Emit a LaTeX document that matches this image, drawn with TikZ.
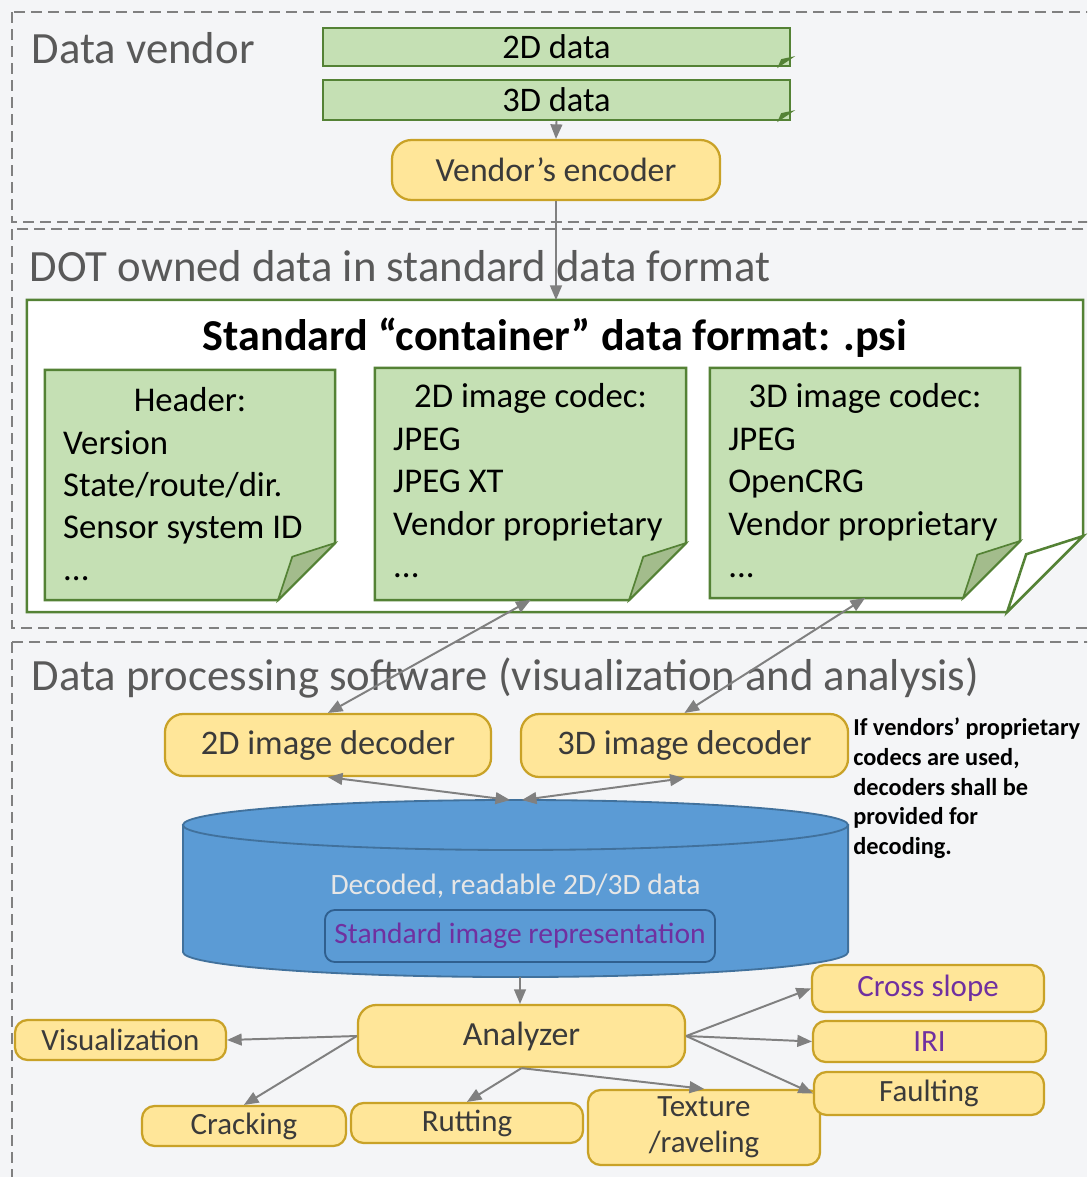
\documentclass[tikz,border=0pt]{standalone}
\usepackage{fontspec}
\setmainfont{Carlito}
\usepackage{tikz}
\usetikzlibrary{arrows,calc}
\definecolor{page}{HTML}{F4F5F7}
\definecolor{zgray}{HTML}{808080}
\definecolor{lbl}{HTML}{595959}
\definecolor{agray}{HTML}{808080}
\definecolor{gfill}{HTML}{C5E0B4}
\definecolor{gline}{HTML}{548235}
\definecolor{gflap}{HTML}{A3BC8C}
\definecolor{yfill}{HTML}{FFE699}
\definecolor{yline}{HTML}{C9A227}
\definecolor{ytext}{HTML}{3A3A3A}
\definecolor{bfill}{HTML}{5B9BD5}
\definecolor{bline}{HTML}{41719C}
\definecolor{repline}{HTML}{2F5F8F}
\definecolor{dbtext}{HTML}{E6E6E6}
\definecolor{purp}{HTML}{7030A0}
\newcommand{\fsz}[2]{\fontsize{#1}{#2}\selectfont}
% card outline with folded corner: node, fold (px), card style, flap style
\newcommand{\foldcard}[4]{%
  \draw[#3] (#1.north west) -- (#1.north east) -- ($(#1.south east)+(0,-#2)$)
    -- ($(#1.south east)+(-#2,0)$) -- (#1.south west) -- cycle;
  \draw[#4] ($(#1.south east)+(-#2,0)$) -- ($(#1.south east)+(-0.75*#2,-0.76*#2)$)
    -- ($(#1.south east)+(0,-#2)$) -- cycle;}

\begin{document}
\begin{tikzpicture}[x=0.025cm,y=-0.025cm,>=triangle 45,
  zone/.style={draw=zgray,line width=2pt,dash pattern=on 7.8pt off 4.3pt},
  zlbl/.style={anchor=west,text=lbl,font=\fsz{31.8}{36}},
  blank/.style={inner sep=0pt,outer sep=0pt},
  ybox/.style={draw=yline,fill=yfill,line width=1.6pt,rounded corners=13pt,inner sep=0pt,text=ytext},
  gbox/.style={draw=gline,fill=gfill,line width=1.6pt,inner sep=0pt,font=\fsz{24.5}{26}},
  card/.style={draw=gline,fill=gfill,line width=1.8pt},
  flap/.style={draw=gline,fill=gflap,line width=1.2pt},
  ctitle/.style={font=\fsz{24.7}{30}},
  clist/.style={anchor=north west,align=left,inner sep=0pt,font=\fsz{24.7}{30}},
  cyl/.style={draw=bline,fill=bfill,line width=1.3pt},
  leaf/.style={ybox,rounded corners=9pt,font=\fsz{22}{25.6}},
  arr/.style={color=agray,line width=1.4pt}
]
\useasboundingbox (0,0) rectangle (1087,1177);
\clip (0,0) rectangle (1087,1177);
\fill[page] (0,0) rectangle (1087,1177);

% data vendor
\draw[zone] (12,12) rectangle (1110,222);
\node[zlbl] (zv) at (27,48) {Data vendor};
\node[gbox,minimum width=11.675cm,minimum height=0.95cm] (d2) at (556.5,47) {2D data};
\node[gbox,minimum width=11.675cm,minimum height=1cm] (d3) at (556.5,100) {3D data};
\fill[gline] ($(d2.south east)+(-14,1)$) -- ($(d2.south east)+(-10,-8)$) -- ($(d2.south east)+(4,-11)$) -- cycle;
\fill[gline] ($(d3.south east)+(-14,1)$) -- ($(d3.south east)+(-10,-8)$) -- ($(d3.south east)+(4,-11)$) -- cycle;
\node[ybox,rounded corners=14pt,minimum width=8.2cm,minimum height=1.5cm,font=\fsz{24}{28}] (enc) at (556,170) {Vendor’s encoder};

% standard data format
\draw[zone] (12,229) rectangle (1110,628);
\node[zlbl] (zd) at (25,266) {DOT owned data in standard data format};
\node[blank,minimum width=26.4cm,minimum height=7.8cm] (box) at (555,456) {};
\foldcard{box}{76}{card,fill=white}{card,fill=white}
\node[font=\bfseries\fsz{31.4}{34}] (ttl) at ($(box.north)+(0,38)$) {Standard “container” data format: .psi};

\node[blank,minimum width=7.25cm,minimum height=5.75cm] (hd) at (190,485) {};
\node[blank,minimum width=7.775cm,minimum height=5.8cm] (c2) at (530.5,484) {};
\node[blank,minimum width=7.75cm,minimum height=5.75cm] (c3) at (865,483) {};
\foldcard{hd}{57}{card}{flap}
\foldcard{c2}{57}{card}{flap}
\foldcard{c3}{57}{card}{flap}
\node[ctitle] at ($(hd.north)+(0,30)$) {Header:};
\node[clist] at ($(hd.north west)+(18,60)$) {Version\\State/route/dir.\\Sensor system ID\\...};
\node[ctitle] at ($(c2.north)+(0,30)$) {2D image codec:};
\node[clist] at ($(c2.north west)+(18,60)$) {JPEG\\JPEG XT\\Vendor proprietary\\...};
\node[ctitle] at ($(c3.north)+(0,30)$) {3D image codec:};
\node[clist] at ($(c3.north west)+(18,60)$) {JPEG\\OpenCRG\\Vendor proprietary\\...};

% processing software
\draw[zone] (12,642) rectangle (1110,1200);
\node[zlbl] (zp) at (27,678) {Data processing software (visualization and analysis)};
\node[ybox,minimum width=8.15cm,minimum height=1.55cm,font=\fsz{24.5}{28}] (dec2) at (328,745) {2D image decoder};
\node[ybox,minimum width=8.175cm,minimum height=1.575cm,font=\fsz{24.5}{28}] (dec3) at (684.5,745.5) {3D image decoder};
\node[anchor=north west,align=left,inner sep=0pt,font=\bfseries\fsz{17.3}{21}] (note) at (853,718)
  {If vendors’ proprietary\\codecs are used,\\decoders shall be\\provided for\\decoding.};

\node[blank,minimum width=16.625cm,minimum height=4.425cm] (db) at (515.5,888.5) {};
\filldraw[cyl] ($(db.north west)+(0,25)$) -- ($(db.south west)+(0,-25)$)
  arc[start angle=180,end angle=360,x radius=8.3125cm,y radius=0.625cm]
  -- ($(db.north east)+(0,25)$) -- cycle;
\filldraw[cyl] ($(db.north)+(0,25)$) ellipse[x radius=8.3125cm,y radius=0.625cm];
\node[text=dbtext,font=\fsz{21}{24}] (dbl) at ($(db.center)+(0,-2)$) {Decoded, readable 2D/3D data};
\node[draw=repline,fill=bfill,line width=1.3pt,rounded corners=7pt,inner sep=0pt,
  minimum width=9.75cm,minimum height=1.3cm,text=purp,font=\fsz{21}{24}] (rep) at (520,936) {Standard image representation};
\coordinate (dtl) at (510,800);
\coordinate (dtr) at (522,800);

\node[ybox,minimum width=8.175cm,minimum height=1.55cm,font=\fsz{24}{28}] (ana) at (521.5,1036) {Analyzer};
\node[leaf,minimum width=5.275cm,minimum height=1cm] (vis) at (120.5,1040) {Visualization};
\node[leaf,minimum width=5.1cm,minimum height=1cm] (crk) at (244,1126) {Cracking};
\node[leaf,minimum width=5.8cm,minimum height=1cm] (rut) at (467,1123) {Rutting};
\node[leaf,minimum width=5.8cm,minimum height=1.875cm,align=center] (tex) at (704,1127.5) {Texture\\/raveling};
\node[leaf,minimum width=5.8cm,minimum height=1.175cm,text=purp] (crs) at (928,988.5) {Cross slope};
\node[leaf,minimum width=5.825cm,minimum height=1.025cm,text=purp] (iri) at (929.5,1041.5) {IRI};
\node[leaf,minimum width=5.75cm,minimum height=1.075cm] (flt) at (929,1093.5) {Faulting};

\path[arr,->]
  (d3.south) edge (enc.north)
  (enc.south) edge (enc.south |- box.north)
  (dec2.north) edge[<->] (c2.south)
  (dec3.north) edge[<->] (c3.south)
  (dec2.south) edge[<->] (dtl)
  (dec3.south) edge[<->] (dtr)
  (rep.south |- db.south) edge (rep.south |- ana.north)
  (ana.west) edge (vis.east) edge (crk.north)
  (ana.south) edge (rut.north) edge (tex.north)
  (ana.east) edge (crs.west) edge (iri.west) edge (flt.west);
\end{tikzpicture}
\end{document}
